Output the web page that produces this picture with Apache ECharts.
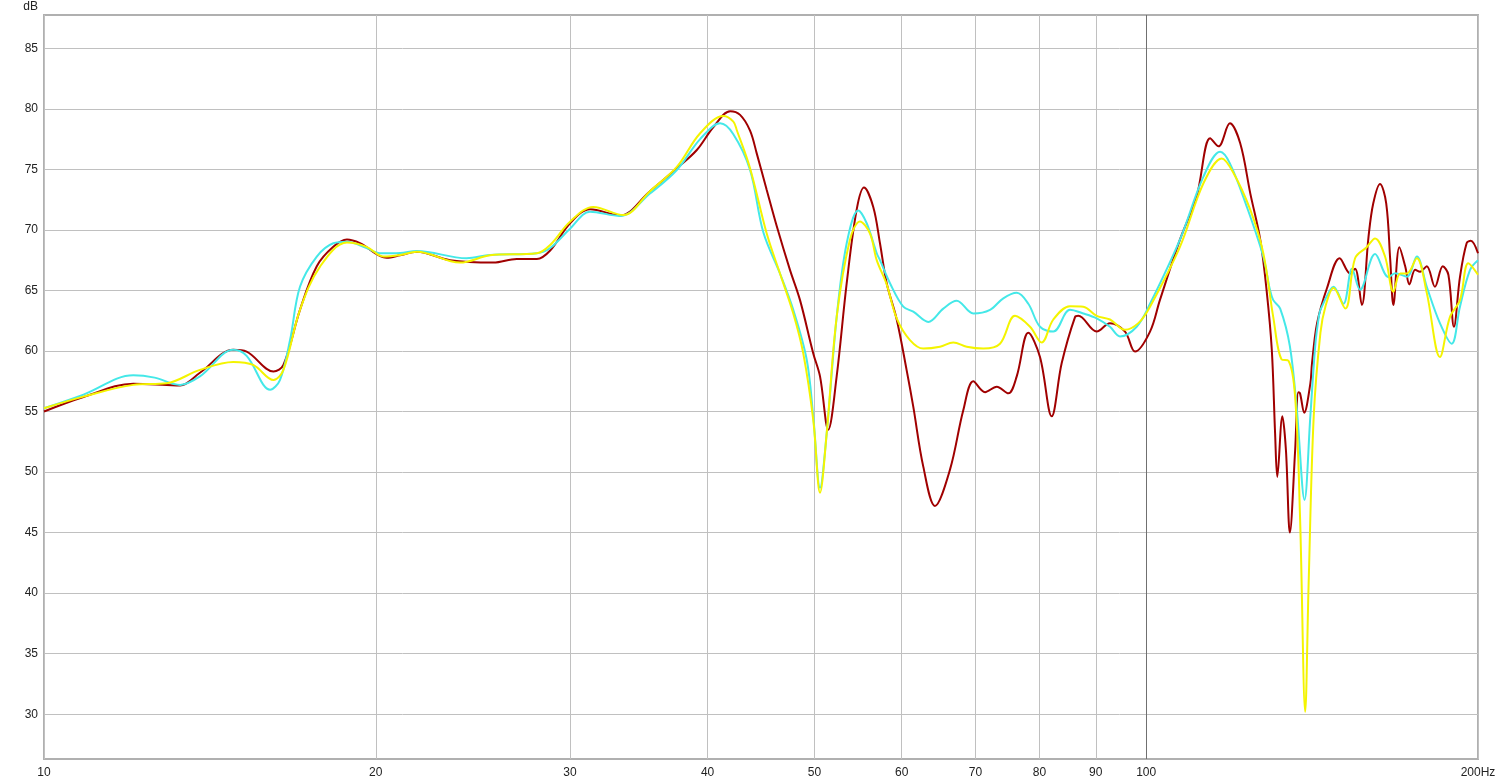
<!DOCTYPE html>
<html>
<head>
<meta charset="utf-8">
<title>Frequency response</title>
<script src="https://cdn.jsdelivr.net/npm/echarts@6/dist/echarts.min.js"></script>
<style>
  html, body { margin: 0; padding: 0; background: #ffffff; }
  #chart { width: 1500px; height: 783px; }
</style>
</head>
<body>
<div id="chart"></div>
<script>
// ---- data (frequency in Hz, level in dB) ----
const freqRed = [10, 10.86, 12.05, 12.92, 13.29, 13.85, 14.85, 15.27, 16.15, 16.49, 17.07, 17.68, 18.3, 18.83, 19.35, 20.46, 21.04, 21.79, 23.35, 25.57, 26.85, 28.0, 28.79, 30.01, 31.29, 33.32, 35.46, 37.51, 39.11, 40.49, 41.93, 42.81, 43.71, 44.33, 45.26, 46.22, 47.51, 48.52, 49.88, 50.59, 51.47, 52.38, 53.49, 54.61, 55.46, 56.54, 57.34, 58.15, 59.38, 60.63, 61.47, 62.77, 64.32, 66.37, 68.24, 69.69, 71.41, 73.18, 74.97, 76.3, 78.17, 80.1, 82.08, 83.82, 86.18, 86.78, 90.17, 92.71, 95.67, 97.69, 100.8, 102.9, 107.3, 111.1, 114.3, 116.3, 119.1, 121.7, 124.3, 126.9, 128.6, 130.0, 130.9, 131.5, 132.9, 133.9, 135.0, 136.5, 137.4, 137.9, 139.1, 140.9, 141.4, 142.9, 145.9, 149.8, 153.1, 154.7, 156.9, 159.1, 160.7, 163.0, 165.1, 166.5, 167.6, 169.7, 171.8, 173.3, 175.4, 177.2, 179.7, 182.8, 185.8, 188.0, 190.2, 192.6, 195.3, 197.0, 200];
const dbRed = [55.0, 56.2, 57.3, 57.2, 57.15, 58.2, 60.1, 59.95, 58.3, 58.85, 63.4, 67.0, 68.6, 69.2, 68.9, 67.7, 67.9, 68.2, 67.5, 67.3, 67.6, 67.6, 68.3, 70.55, 71.7, 71.2, 73.2, 75.1, 76.6, 78.5, 79.8, 79.5, 78.2, 76.3, 73.3, 70.3, 66.7, 64.2, 59.8, 57.9, 53.5, 57.9, 65.6, 71.65, 73.5, 71.9, 68.9, 65.6, 62.6, 58.4, 55.4, 50.45, 47.2, 50.2, 55.1, 57.5, 56.6, 57.05, 56.5, 57.9, 61.5, 59.5, 54.6, 59.0, 62.8, 62.9, 61.6, 62.3, 61.6, 59.95, 61.6, 64.2, 69.2, 72.75, 77.57, 76.9, 78.8, 77.15, 73.0, 69.2, 65.0, 60.1, 53.2, 49.6, 54.6, 51.8, 45.0, 51.8, 56.6, 56.5, 54.9, 57.3, 59.0, 62.3, 65.2, 67.66, 66.4, 66.8, 63.8, 69.4, 72.2, 73.8, 72.2, 67.5, 63.8, 68.57, 66.97, 65.5, 66.7, 66.55, 67.0, 65.3, 67.0, 66.3, 62.0, 66.1, 68.9, 69.1, 68.07];

const freqCyan = [10, 10.86, 12.05, 12.6, 13.29, 13.85, 14.85, 15.27, 16.04, 16.37, 16.72, 17.07, 17.68, 18.3, 18.83, 19.62, 20.18, 21.04, 21.79, 24.18, 25.39, 28.0, 28.79, 30.01, 31.29, 33.32, 35.46, 37.51, 39.38, 41.06, 42.21, 43.71, 44.94, 46.53, 47.84, 49.2, 49.88, 50.59, 51.3, 52.38, 53.49, 54.8, 55.77, 56.95, 57.34, 58.55, 60.2, 61.47, 63.43, 65.45, 67.31, 69.69, 72.16, 74.19, 76.3, 78.17, 80.1, 82.36, 85.28, 87.69, 90.17, 92.71, 94.67, 98.03, 100.8, 107.3, 112.7, 116.7, 119.1, 123.4, 127.7, 129.5, 130.4, 132.3, 135.0, 137.0, 139.2, 140.9, 142.4, 143.4, 143.9, 146.9, 147.9, 151.0, 153.7, 156.3, 161.3, 165.9, 168.2, 172.4, 176.0, 179.7, 184.7, 189.3, 192.6, 196.7, 200];
const dbCyan = [55.27, 56.4, 58.0, 57.8, 57.2, 57.9, 60.1, 59.6, 56.8, 57.6, 60.9, 65.3, 67.8, 68.9, 69.03, 68.5, 68.07, 68.1, 68.26, 67.66, 67.93, 68.07, 68.5, 70.1, 71.5, 71.15, 73.0, 74.95, 77.5, 78.8, 77.9, 74.95, 69.8, 66.4, 63.4, 59.3, 54.6, 48.7, 53.2, 62.8, 68.9, 71.6, 70.55, 68.07, 67.5, 65.6, 63.66, 63.25, 62.4, 63.5, 64.15, 63.1, 63.4, 64.35, 64.8, 63.9, 62.0, 61.6, 63.4, 63.1, 62.7, 62.0, 61.2, 62.0, 63.9, 69.2, 74.4, 76.46, 75.5, 71.9, 67.8, 65.05, 64.2, 63.5, 60.4, 55.1, 47.7, 54.6, 60.6, 62.8, 63.4, 65.05, 65.3, 63.9, 66.8, 65.05, 68.0, 66.1, 66.42, 66.14, 67.8, 65.3, 62.3, 60.6, 63.66, 66.7, 67.5];

const freqYellow = [10, 10.86, 12.05, 12.92, 13.85, 14.85, 15.48, 16.15, 16.49, 17.07, 17.8, 18.83, 19.62, 20.32, 21.04, 21.79, 23.84, 25.39, 28.0, 28.79, 30.01, 31.5, 33.55, 35.46, 37.51, 39.38, 41.34, 42.21, 42.51, 43.71, 45.26, 46.53, 47.84, 48.85, 49.88, 50.59, 51.3, 52.38, 53.86, 54.99, 56.16, 56.95, 58.15, 59.38, 61.05, 62.77, 65.0, 66.83, 68.73, 71.16, 73.68, 76.03, 78.45, 80.39, 82.36, 85.28, 87.69, 90.17, 92.71, 95.67, 98.37, 100.8, 107.3, 112.7, 117.1, 120.0, 124.3, 127.7, 130.4, 132.7, 134.6, 136.5, 137.9, 139.4, 140.4, 141.9, 143.9, 145.4, 147.9, 151.6, 154.7, 158.5, 161.3, 164.7, 167.6, 170.0, 172.4, 176.0, 179.7, 184.7, 188.6, 192.6, 196.0, 200];
const dbYellow = [55.27, 56.23, 57.2, 57.33, 58.44, 59.1, 58.85, 57.6, 58.44, 63.4, 66.97, 68.95, 68.6, 67.8, 67.93, 68.2, 67.3, 67.9, 68.07, 68.76, 70.68, 71.9, 71.23, 73.2, 75.2, 77.98, 79.4, 78.94, 78.25, 75.1, 69.7, 66.4, 63.1, 59.8, 54.3, 48.3, 53.2, 62.8, 69.2, 70.7, 69.7, 67.5, 65.5, 62.7, 60.9, 60.2, 60.35, 60.7, 60.35, 60.2, 60.6, 62.9, 62.0, 60.7, 62.6, 63.7, 63.66, 62.9, 62.6, 61.75, 62.3, 63.66, 68.6, 73.85, 75.9, 74.7, 71.65, 68.1, 62.8, 59.3, 59.2, 56.2, 46.3, 30.2, 40.8, 54.6, 61.5, 63.66, 65.2, 63.5, 67.66, 68.57, 69.3, 67.8, 64.9, 66.4, 66.4, 67.66, 64.8, 59.5, 62.8, 64.2, 67.25, 66.3];

const xTickFreqs = [10, 20, 30, 40, 50, 60, 70, 80, 90, 100, 200];
const yTickValues = [30, 35, 40, 45, 50, 55, 60, 65, 70, 75, 80, 85];

// ---- build ----
const lg = Math.log10;
const pairs = (fs, ds) => fs.map((f, i) => [lg(f), ds[i]]);
const xTicks = xTickFreqs.map(lg);
const fontFamily = '"Liberation Sans", Arial, sans-serif';

const chart = echarts.init(document.getElementById('chart'), null, { renderer: 'canvas' });

const lineSeries = (name, color, fs, ds, extra) => Object.assign({
  name: name,
  type: 'line',
  data: pairs(fs, ds),
  showSymbol: false,
  symbol: 'none',
  smooth: 0.35,
  lineStyle: { color: color, width: 2 },
  itemStyle: { color: color },
  animation: false,
  silent: true
}, extra || {});

chart.setOption({
  backgroundColor: '#ffffff',
  animation: false,
  grid: {
    left: 44, right: 22, top: 15, bottom: 24,
    outerBoundsMode: 'none',
    containLabel: false,
    show: true,
    borderColor: '#b0b0b0',
    borderWidth: 2,
    backgroundColor: '#ffffff'
  },
  xAxis: {
    type: 'value',
    min: lg(10),
    max: lg(200),
    axisLine: { show: false },
    axisTick: { show: false, customValues: xTicks },
    axisLabel: {
      customValues: xTicks,
      margin: 8,
      color: '#222222',
      fontSize: 12,
      fontFamily: fontFamily,
      formatter: function (v) {
        const f = Math.round(Math.pow(10, v));
        return f === 200 ? '200Hz' : String(f);
      }
    },
    splitLine: { show: true, lineStyle: { color: '#c0c0c0', width: 1 } }
  },
  yAxis: {
    type: 'value',
    min: 26.3,
    max: 87.75,
    name: 'dB',
    nameLocation: 'end',
    nameGap: 8,
    nameTextStyle: { color: '#222222', fontSize: 12, fontFamily: fontFamily, align: 'right', verticalAlign: 'middle', padding: [0, 6, 0, 0] },
    axisLine: { show: false },
    axisTick: { show: false, customValues: yTickValues },
    axisLabel: {
      customValues: yTickValues,
      margin: 6,
      color: '#222222',
      fontSize: 12,
      fontFamily: fontFamily
    },
    splitLine: { show: true, lineStyle: { color: '#c0c0c0', width: 1 } }
  },
  series: [
    lineSeries('Red', '#a00000', freqRed, dbRed, {
      z: 2,
      markLine: {
        silent: true,
        symbol: 'none',
        label: { show: false },
        lineStyle: { color: '#707070', width: 1, type: 'solid' },
        data: [{ xAxis: lg(100) }],
        animation: false,
        z: 1
      }
    }),
    lineSeries('Cyan', '#44e8e8', freqCyan, dbCyan, { z: 3 }),
    lineSeries('Yellow', '#f4f400', freqYellow, dbYellow, { z: 4 })
  ]
});
</script>
</body>
</html>
